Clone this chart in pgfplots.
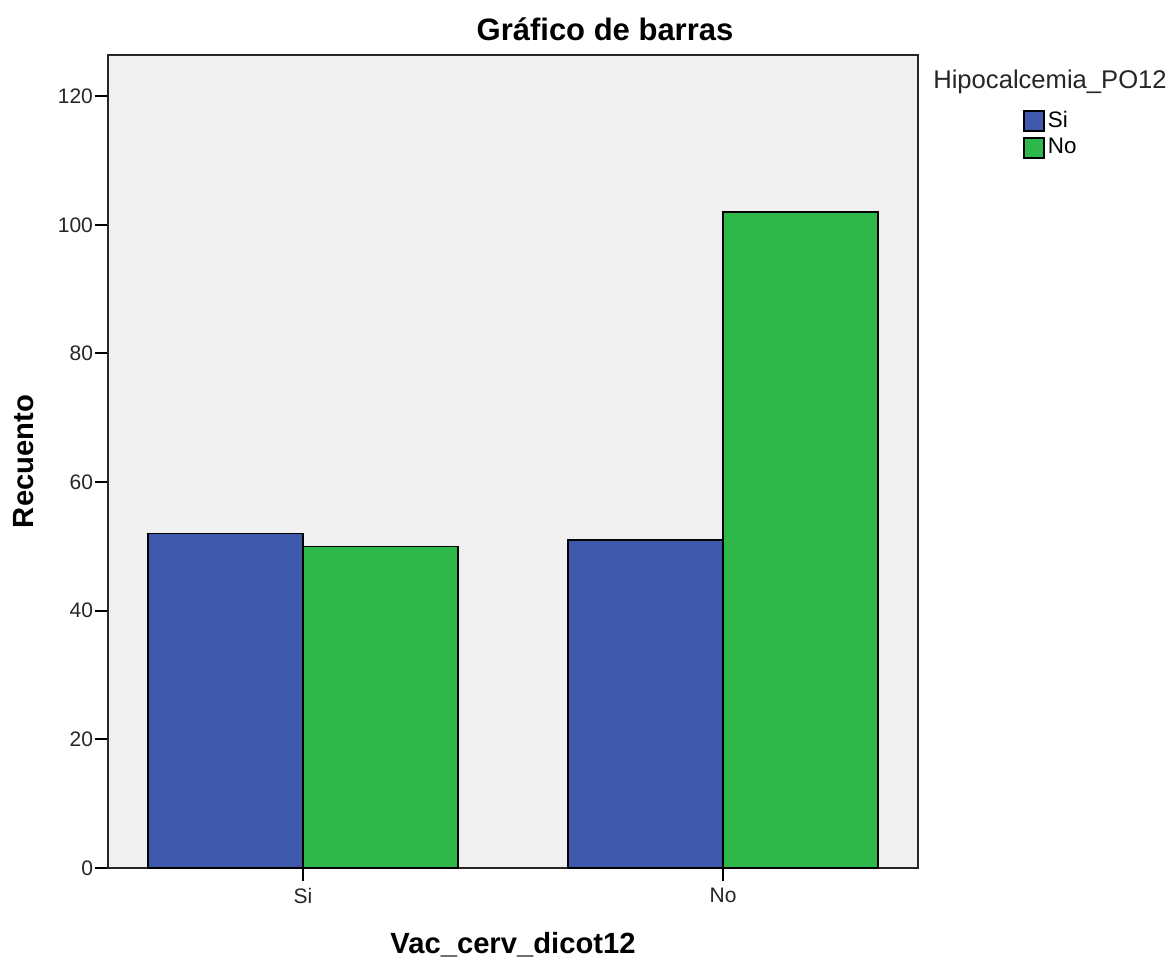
\documentclass[border=0pt]{standalone}
\usepackage{pgfplots}
\pgfplotsset{compat=1.18}
\usepackage{fontspec}
\setmainfont{Liberation Sans}
\definecolor{barblue}{HTML}{3E58AC}
\definecolor{bargreen}{HTML}{2FB84A}
\definecolor{bgc}{HTML}{F0F0F0}
\pgfplotsset{sqlegend/.style={legend image code/.code={%
    \draw[##1,line width=0.75pt] (0pt,-5pt) rectangle (10pt,5pt);}}}
\begin{document}
\begin{tikzpicture}
\useasboundingbox (-54pt,-45.5pt) rectangle (531.5pt,434pt);
\begin{axis}[
    at={(0,0)}, anchor=south west,
    scale only axis,
    width=405pt, height=406.5pt,
    ybar=0pt, bar width=77.5pt,
    xmin=-0.464, xmax=1.464,
    ymin=0, ymax=126.4,
    xtick={0,1}, xticklabels={Si,No},
    ytick={0,20,40,60,80,100,120},
    tick pos=left,
    tick align=outside,
    major tick length=6.5pt,
    tick style={black, line width=1pt},
    axis line style={black!85, line width=1pt},
    axis background/.style={fill=bgc},
    /pgf/number format/assume math mode=true,
    ticklabel style={font=\fontsize{10.5}{12}\selectfont, text=black!85},
    yticklabel style={xshift=2.5pt},
    legend style={at={(1.1296,0.9349)}, anchor=north west, draw=none, fill=none,
        font=\fontsize{11.2}{12}\selectfont, inner sep=0pt, row sep=1pt,
        nodes={inner sep=1.5pt}},
    legend cell align=left,
]
\addplot[fill=barblue, draw=black, line width=0.75pt, sqlegend]
    coordinates {(0,52) (1,51)};
\addplot[fill=bargreen, draw=black, line width=0.75pt, sqlegend]
    coordinates {(0,50) (1,102)};
\legend{Si,No}
\end{axis}
% titles and labels
\node[font=\fontsize{15.5}{18}\selectfont\bfseries] at (248.5pt,419.5pt) {Gráfico de barras};
\node[font=\fontsize{14.6}{17}\selectfont\bfseries] at (202.5pt,-38.5pt) {Vac\_cerv\_dicot12};
\node[font=\fontsize{14.6}{17}\selectfont\bfseries, rotate=90] at (-42pt,203.25pt) {Recuento};
\node[font=\fontsize{12.8}{15}\selectfont, text=black!85] at (471pt,393pt) {Hipocalcemia\_PO12};
\end{tikzpicture}
\end{document}
